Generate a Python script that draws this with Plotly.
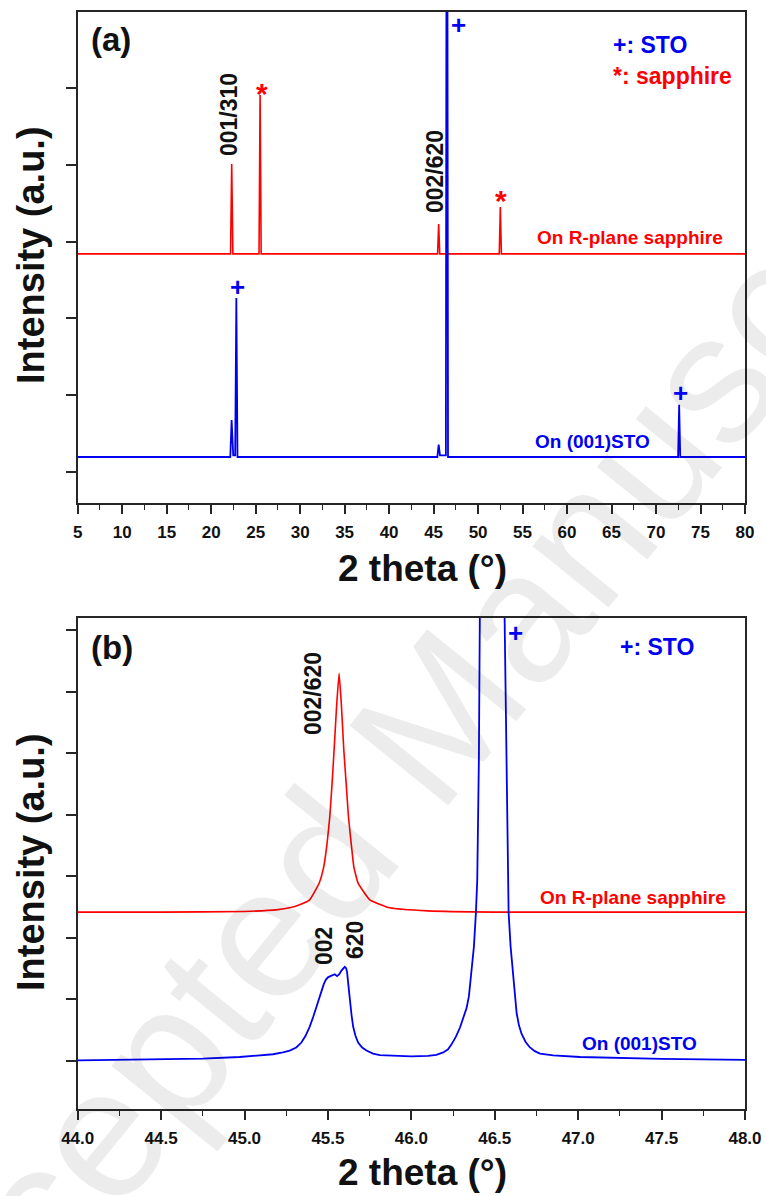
import plotly.graph_objects as go

W, H = 766, 1196

# ---------------- panel (a): wide 2-theta scans ----------------
a_sapphire_2theta = [5.0, 22.18, 22.31, 22.44, 25.38, 25.5, 25.62,
                     45.45, 45.57, 45.69, 52.38, 52.5, 52.62, 80.0]
a_sapphire_int = [0, 0, 1.17, 0, 0, 2.07, 0,
                  0, 0.39, 0, 0, 0.61, 0, 0]

a_sto_2theta = [5.0, 22.15, 22.3, 22.48, 22.7, 22.83, 22.96,
                45.42, 45.57, 45.72, 46.38, 46.5, 46.62,
                72.48, 72.6, 72.72, 80.0]
a_sto_int = [0, 0, 0.48, 0.02, 0.02, 2.07, 0,
             0, 0.16, 0.02, 0.02, 12.0, 0,
             0, 0.68, 0, 0]

A_OFFSET_SAPPHIRE = 2.84
A_OFFSET_STO = 0.195

# ---------------- panel (b): zoom around the 002 reflection ----------------
b_sapphire_2theta = [44.0, 44.5, 45.0, 45.2, 45.27, 45.33, 45.39, 45.447, 45.475,
                     45.495, 45.511, 45.525, 45.537, 45.552, 45.567, 45.581,
                     45.595, 45.609, 45.623, 45.64, 45.655, 45.681, 45.751,
                     45.871, 46.1, 46.5, 47.0, 47.5, 48.0]
b_sapphire_int = [0.0, 0.0, 0.01, 0.04, 0.07, 0.12, 0.20, 0.47, 0.74,
                  1.12, 1.55, 2.1, 2.64, 3.35, 3.88, 3.35,
                  2.64, 2.1, 1.55, 1.1, 0.74, 0.47, 0.20,
                  0.07, 0.02, 0.0, 0.0, 0.0, 0.0]

b_sto_2theta = [44.0, 44.5, 44.75, 44.97, 45.1, 45.171, 45.23, 45.271, 45.31, 45.341,
                45.366, 45.391, 45.412, 45.431, 45.447, 45.461, 45.475, 45.487,
                45.5, 45.515, 45.53, 45.541, 45.555, 45.568, 45.581, 45.592,
                45.601, 45.609, 45.615, 45.622, 45.631, 45.641, 45.651, 45.665,
                45.681, 45.705, 45.731, 45.77, 45.811, 45.9, 46.0, 46.1, 46.15,
                46.191, 46.22, 46.241, 46.268, 46.291, 46.312, 46.331, 46.345,
                46.355, 46.366, 46.375, 46.387, 46.395, 46.405,
                46.421, 46.49, 46.557, 46.569, 46.577, 46.583, 46.595, 46.611,
                46.621, 46.631, 46.645, 46.661, 46.685, 46.711, 46.74, 46.771,
                46.85, 47.011, 47.5, 48.0]
b_sto_int = [0.01, 0.025, 0.04, 0.065, 0.09, 0.11, 0.14, 0.17, 0.22, 0.30,
             0.41, 0.56, 0.72, 0.88, 1.02, 1.15, 1.25, 1.32,
             1.36, 1.38, 1.40, 1.41, 1.38, 1.41, 1.47, 1.51,
             1.53, 1.51, 1.44, 1.25, 0.99, 0.76, 0.56, 0.41,
             0.30, 0.22, 0.17, 0.12, 0.095, 0.08, 0.075, 0.085, 0.10,
             0.14, 0.19, 0.27, 0.40, 0.54, 0.70, 0.86, 1.05,
             1.30, 1.58, 1.86, 2.41, 2.94, 4.95,
             7.6, 40.0, 7.6, 4.95, 2.94, 2.41, 1.86, 1.32,
             1.02, 0.78, 0.58, 0.44, 0.31, 0.22, 0.16, 0.12,
             0.09, 0.065, 0.035, 0.02]

B_OFFSET_SAPPHIRE = 2.42
B_OFFSET_STO = 0.0

RED = "#FF0000"
BLUE = "#0000F0"
FRAME = "#262626"
FONT = "Liberation Sans"

fig = go.Figure()

fig.add_trace(go.Scatter(x=a_sapphire_2theta,
                         y=[v + A_OFFSET_SAPPHIRE for v in a_sapphire_int],
                         mode="lines", line=dict(color=RED, width=1.6),
                         xaxis="x", yaxis="y"))
fig.add_trace(go.Scatter(x=a_sto_2theta,
                         y=[v + A_OFFSET_STO for v in a_sto_int],
                         mode="lines", line=dict(color=BLUE, width=1.8),
                         xaxis="x", yaxis="y"))
fig.add_trace(go.Scatter(x=b_sapphire_2theta,
                         y=[v + B_OFFSET_SAPPHIRE for v in b_sapphire_int],
                         mode="lines", line=dict(color=RED, width=1.6, shape="spline", smoothing=0.4),
                         xaxis="x2", yaxis="y2"))
fig.add_trace(go.Scatter(x=b_sto_2theta,
                         y=[v + B_OFFSET_STO for v in b_sto_int],
                         mode="lines", line=dict(color=BLUE, width=1.8),
                         xaxis="x2", yaxis="y2"))

x_dom = [77.7 / W, 745 / W]


def pdom(top_px, bottom_px):
    return [1 - bottom_px / H, 1 - top_px / H]


tickfont = dict(family=FONT, size=17, color="#111111", weight="bold")
common_x = dict(showline=True, linewidth=2, linecolor=FRAME, mirror=True,
                ticks="outside", ticklen=9, tickwidth=1.6, tickcolor=FRAME,
                showgrid=False, zeroline=False, tickfont=tickfont,
                ticklabelstandoff=4, automargin=False)
common_y = dict(showline=True, linewidth=2, linecolor=FRAME, mirror=True,
                ticks="outside", ticklen=10, tickwidth=1.6, tickcolor=FRAME,
                showgrid=False, zeroline=False, showticklabels=False,
                automargin=False)

fig.update_layout(
    width=W, height=H,
    margin=dict(l=0, r=0, t=0, b=0, autoexpand=False),
    paper_bgcolor="white", plot_bgcolor="white",
    showlegend=False,
    xaxis=dict(domain=x_dom, anchor="y", range=[5, 80],
               tickvals=list(range(5, 81, 5)),
               minor=dict(dtick=2.5, tick0=5, ticks="outside", ticklen=5,
                          tickwidth=1.4, tickcolor=FRAME),
               **common_x),
    yaxis=dict(domain=pdom(12, 503), anchor="x", range=[-0.404, 5.99],
               tickvals=[0, 1, 2, 3, 4, 5], **common_y),
    xaxis2=dict(domain=x_dom, anchor="y2", range=[44, 48],
                tickvals=[44, 44.5, 45, 45.5, 46, 46.5, 47, 47.5, 48],
                tickformat=".1f",
                minor=dict(dtick=0.25, tick0=44, ticks="outside", ticklen=5,
                           tickwidth=1.4, tickcolor=FRAME),
                **common_x),
    yaxis2=dict(domain=pdom(618, 1109), anchor="x2", range=[-0.78, 7.2],
                tickvals=[0, 1, 2, 3, 4, 5, 6, 7], **common_y),
)


def px_ann(text, x, y, size, color="#111111", angle=0, xanchor="center", **kw):
    fig.add_annotation(text=text, x=x / W, y=1 - y / H, xref="paper", yref="paper",
                       showarrow=False, textangle=angle, xanchor=xanchor, yanchor="middle",
                       font=dict(family=FONT, size=size, color=color), **kw)


# watermark across the page
px_ann("Accepted Manuscript", 415, 745, 185, color="rgba(0,0,0,0.075)", angle=-51)

# axis titles
for cy in (255, 862):
    px_ann("<b>Intensity (a.u.)</b>", 31, cy, 38, angle=-90)
px_ann("<b>2 theta (°)</b>", 422, 568, 37)
px_ann("<b>2 theta (°)</b>", 422, 1172, 37)

# panel (a) labels
px_ann("<b>(a)</b>", 111, 40, 33)
px_ann("<b>001/310</b>", 229, 115, 23, angle=-90)
px_ann("<b>002/620</b>", 435, 172, 23, angle=-90)
px_ann("<b>*</b>", 262, 93, 30, color=RED)
px_ann("<b>*</b>", 501, 201, 30, color=RED)
px_ann("<b>+</b>", 458, 25, 26, color=BLUE)
px_ann("<b>+</b>", 237, 287, 26, color=BLUE)
px_ann("<b>+</b>", 680, 393, 26, color=BLUE)
px_ann("<b>+: STO</b>", 611, 45, 23, color=BLUE, xanchor="left")
px_ann("<b>*: sapphire</b>", 611, 76, 23, color=RED, xanchor="left")
px_ann("<b>On R-plane sapphire</b>", 630, 237, 19, color=RED)
px_ann("<b>On (001)STO</b>", 592, 441, 19, color=BLUE)

# panel (b) labels
px_ann("<b>(b)</b>", 112, 647, 33)
px_ann("<b>002/620</b>", 313, 694, 23, angle=-90)
px_ann("<b>002</b>", 324, 946, 23, angle=-90)
px_ann("<b>620</b>", 355, 940, 23, angle=-90)
px_ann("<b>+</b>", 515, 633, 26, color=BLUE)
px_ann("<b>+: STO</b>", 618, 647, 23, color=BLUE, xanchor="left")
px_ann("<b>On R-plane sapphire</b>", 633, 897, 19, color=RED)
px_ann("<b>On (001)STO</b>", 639, 1043, 19, color=BLUE)

fig.write_html("out.html")
